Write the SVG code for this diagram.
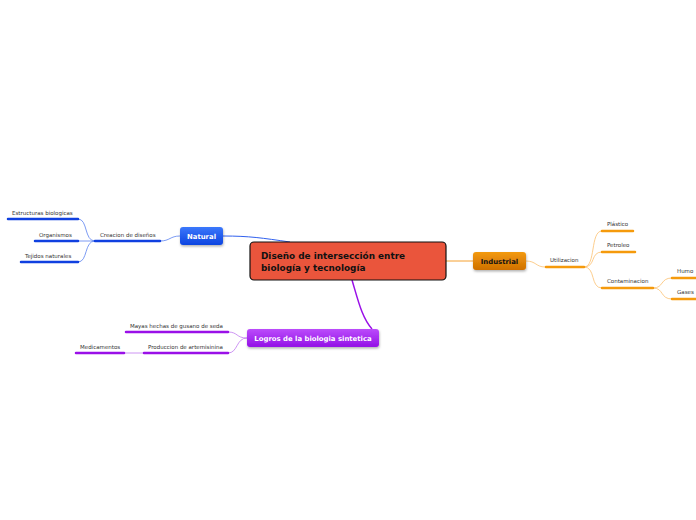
<svg xmlns="http://www.w3.org/2000/svg" width="696" height="520" viewBox="0 0 696 520">
<style>
.leaf{font-family:"DejaVu Sans",Verdana,sans-serif;font-size:5.5px;fill:#333}
.main{font-family:"DejaVu Sans",Verdana,sans-serif;font-size:6.9px;font-weight:bold}
.ub{stroke:#1040e0;stroke-width:2.5;fill:none;stroke-linecap:round}
.uo{stroke:#f59a0c;stroke-width:2.5;fill:none;stroke-linecap:round}
.up{stroke:#9a10e8;stroke-width:2.5;fill:none;stroke-linecap:round}
.cb{stroke:#5b82f0;stroke-width:0.8;fill:none}
.co{stroke:#fbc070;stroke-width:0.8;fill:none}
.cp{stroke:#c07af0;stroke-width:0.8;fill:none}
</style>
<defs>
<linearGradient id="gb" x1="0" y1="0" x2="0" y2="1"><stop offset="0" stop-color="#3b78fb"/><stop offset="1" stop-color="#0d44e0"/></linearGradient>
<linearGradient id="go" x1="0" y1="0" x2="0" y2="1"><stop offset="0" stop-color="#f39a10"/><stop offset="1" stop-color="#cf7000"/></linearGradient>
<linearGradient id="gp" x1="0" y1="0" x2="0" y2="1"><stop offset="0" stop-color="#bb4cfb"/><stop offset="1" stop-color="#9311e6"/></linearGradient>
<filter id="sh" x="-20%" y="-30%" width="140%" height="170%"><feDropShadow dx="0.5" dy="1.5" stdDeviation="1.2" flood-color="#000" flood-opacity="0.3"/></filter>
</defs>
<rect width="696" height="520" fill="#fff"/>
<g id="connectors">
<path d="M223,236 C250,236 262,238 290,242" stroke="#3060ee" stroke-width="1" fill="none"/>
<path d="M446,261 L473,261" stroke="#f5a030" stroke-width="1" fill="none"/>
<path d="M352,280 C358,300 362,318 372,329" stroke="#9a10e8" stroke-width="1.5" fill="none"/>
<path class="cb" d="M160,241 C170,241 170,236 180,236"/>
<path class="cb" d="M95,241 C84,241 88,219 78,219"/>
<path class="cb" d="M95,241 L78,241"/>
<path class="cb" d="M95,241 C84,241 88,262 78,262"/>
<path class="co" d="M526,261 C536,261 536,267 545,267"/>
<path class="co" d="M584,267 C596,267 590,231 602,231"/>
<path class="co" d="M584,267 C596,267 590,252 602,252"/>
<path class="co" d="M584,267 C596,267 590,288 602,288"/>
<path class="co" d="M653,288 C664,288 660,278 672,278"/>
<path class="co" d="M653,288 C664,288 660,299 672,299"/>
<path class="cp" d="M247,338 C236,338 238,332 228,332"/>
<path class="cp" d="M247,338 C236,338 238,353 228,353"/>
<path class="cp" d="M143,353 L124,353"/>
</g>
<g id="central">
<rect x="250" y="242" width="196" height="38" rx="4" fill="#ea553c" stroke="#111" stroke-width="1.2"/>
<text x="261" y="259" font-family="'DejaVu Sans',Verdana,sans-serif" font-size="8.9" font-weight="bold" fill="#111">Diseño de intersección entre</text>
<text x="261" y="270.5" font-family="'DejaVu Sans',Verdana,sans-serif" font-size="8.9" font-weight="bold" fill="#111">biología y tecnología</text>
</g>
<g id="natural">
<rect x="180" y="227" width="43" height="18" rx="3" fill="url(#gb)" filter="url(#sh)"/>
<text class="main" x="201.5" y="239" text-anchor="middle" fill="#fff">Natural</text>
</g>
<g id="creacion">
<text class="leaf" x="100" y="237">Creacion de diseños</text>
<path class="ub" d="M95,241 L160,241"/>
</g>
<g id="estructuras">
<text class="leaf" x="12" y="215">Estructuras biologicas</text>
<path class="ub" d="M8,219 L78,219"/>
</g>
<g id="organismos">
<text class="leaf" x="39" y="237">Organismos</text>
<path class="ub" d="M35,241 L78,241"/>
</g>
<g id="tejidos">
<text class="leaf" x="25" y="258">Tejidos naturales</text>
<path class="ub" d="M21,262 L78,262"/>
</g>
<g id="industrial">
<rect x="473" y="252" width="53" height="18" rx="3" fill="url(#go)" filter="url(#sh)"/>
<text class="main" x="499.5" y="264" text-anchor="middle" fill="#111">Industrial</text>
</g>
<g id="utilizacion">
<text class="leaf" x="550" y="262">Utilizacion</text>
<path class="uo" d="M546,267 L584,267"/>
</g>
<g id="plastico">
<text class="leaf" x="607" y="226">Plástico</text>
<path class="uo" d="M602,231 L633,231"/>
</g>
<g id="petroleo">
<text class="leaf" x="607" y="247">Petroleo</text>
<path class="uo" d="M602,252 L635,252"/>
</g>
<g id="contaminacion">
<text class="leaf" x="607" y="283">Contaminacion</text>
<path class="uo" d="M602,288 L653,288"/>
</g>
<g id="humo">
<text class="leaf" x="677" y="273">Humo</text>
<path class="uo" d="M672,278 L697,278"/>
</g>
<g id="gases">
<text class="leaf" x="677" y="294">Gases</text>
<path class="uo" d="M672,299 L697,299"/>
</g>
<g id="logros">
<rect x="247" y="329" width="132" height="18" rx="3" fill="url(#gp)" filter="url(#sh)"/>
<text class="main" x="313" y="341" text-anchor="middle" fill="#fff">Logros de la biologia sintetica</text>
</g>
<g id="mayas">
<text class="leaf" x="130" y="328">Mayas hechas de gusano de seda</text>
<path class="up" d="M126,332 L228,332"/>
</g>
<g id="produccion">
<text class="leaf" x="148" y="349">Produccion de artemisinina</text>
<path class="up" d="M144,353 L228,353"/>
</g>
<g id="medicamentos">
<text class="leaf" x="80" y="349">Medicamentos</text>
<path class="up" d="M76,353 L124,353"/>
</g>
</svg>
